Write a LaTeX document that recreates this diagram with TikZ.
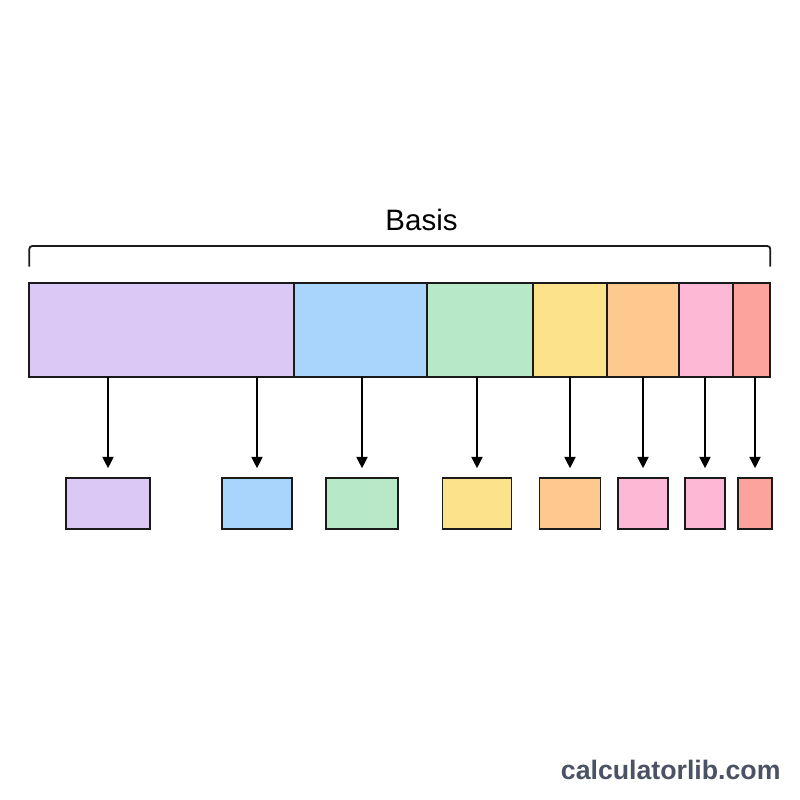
\documentclass[tikz,border=0pt]{standalone}
\usepackage{fontspec}
\setmainfont{Liberation Sans}
\usetikzlibrary{arrows.meta}
\definecolor{cpurple}{HTML}{DCC8F4}
\definecolor{cblue}{HTML}{A9D5FC}
\definecolor{cgreen}{HTML}{B7E9C9}
\definecolor{cyellow}{HTML}{FDE28C}
\definecolor{corange}{HTML}{FDC98F}
\definecolor{cpink}{HTML}{FDB8D5}
\definecolor{cred}{HTML}{FDA39E}
\definecolor{wmark}{HTML}{4B5263}
\definecolor{lineblk}{HTML}{1A1A1A}
\tikzset{
  seg/.style={draw=lineblk, line width=1.8pt, inner sep=0pt, outer sep=0pt, minimum height=94pt},
  small/.style={draw=lineblk, line width=1.8pt, inner sep=0pt, outer sep=0pt, minimum height=51.6pt},
  arr/.style={draw=black, line width=2pt, -{Triangle[width=11pt,length=11.5pt]}, shorten >=9.4pt},
  brace/.style={draw=lineblk, line width=1.8pt, rounded corners=3pt}
}
\begin{document}
\begin{tikzpicture}[x=1pt,y=-1pt]
\fill[white] (0,0) rectangle (800,800);
\useasboundingbox (0,0) rectangle (800,800);
% top bar segments
\node[seg, fill=cpurple, minimum width=264.7pt] (p1) at (161.65,330.3) {};
\node[seg, fill=cblue,   minimum width=133.3pt] (p2) at (360.65,330.3) {};
\node[seg, fill=cgreen,  minimum width=105.4pt] (p3) at (480,330.3) {};
\node[seg, fill=cyellow, minimum width=74.6pt]  (p4) at (570,330.3) {};
\node[seg, fill=corange, minimum width=71.4pt]  (p5) at (643,330.3) {};
\node[seg, fill=cpink,   minimum width=54.6pt]  (p6) at (706,330.3) {};
\node[seg, fill=cred,    minimum width=37pt]    (p7) at (751.8,330.3) {};
% small boxes
\node[small, fill=cpurple, minimum width=83.3pt] (b1) at (108,503.5) {};
\node[small, fill=cblue,   minimum width=70pt]   (b2) at (257,503.5) {};
\node[small, fill=cgreen,  minimum width=72.6pt] (b3) at (362,503.5) {};
\node[small, fill=cyellow, minimum width=69pt]   (b4) at (477,503.5) {};
\node[small, fill=corange, minimum width=61pt]   (b5) at (570,503.5) {};
\node[small, fill=cpink,   minimum width=49.4pt] (b6) at (643,503.5) {};
\node[small, fill=cpink,   minimum width=40.7pt] (b7) at (705,503.5) {};
\node[small, fill=cred,    minimum width=34.3pt] (b8) at (755,503.5) {};
% arrows
\draw[arr] (p1.south -| b1) -- (b1.north);
\draw[arr] (p1.south -| b2) -- (b2.north);
\draw[arr] (p2.south -| b3) -- (b3.north);
\draw[arr] (p3.south -| b4) -- (b4.north);
\draw[arr] (p4.south -| b5) -- (b5.north);
\draw[arr] (p5.south -| b6) -- (b6.north);
\draw[arr] (p6.south -| b7) -- (b7.north);
\draw[arr] (p7.south -| b8) -- (b8.north);
% bracket
\coordinate (bl) at (p1.north west);
\coordinate (br) at (p7.north east);
\draw[brace] ([yshift=16.6pt]bl) -- ([yshift=37.3pt]bl) -- ([yshift=37.3pt]br) -- ([yshift=16.6pt]br);
% label
\node[anchor=base, inner sep=0pt, font=\fontsize{29.5pt}{32pt}\selectfont] (basis) at (421.5,230.7) {Basis};
% watermark
\node[anchor=base, inner sep=0pt, text=wmark, font=\fontsize{26.7pt}{30pt}\selectfont\bfseries] (wm) at (670.7,779) {calculatorlib.com};
\end{tikzpicture}
\end{document}
